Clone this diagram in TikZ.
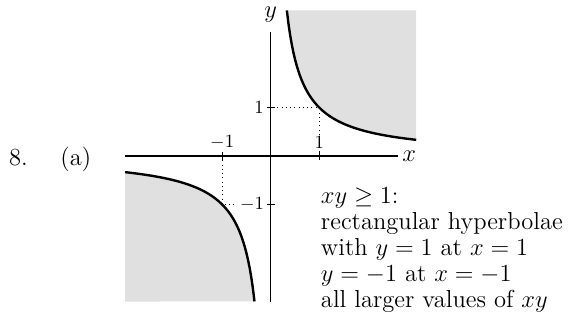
\documentclass[tikz,border=0pt]{standalone}
\usetikzlibrary{positioning}

\begin{document}
\begin{tikzpicture}[
region/.style={
  fill=black!12,
  draw=none
},
curve/.style={
  line width=1.4pt
},
axis/.style={
  line width=0.7pt
},
guide/.style={
  dotted,
  line width=0.5pt
},
ticklab/.style={
  inner sep=1.5pt,
  font=\fontsize{11}{13}\selectfont
},
font=\fontsize{14.4}{15.3}\selectfont
]
\useasboundingbox (-5.58,-3.464) rectangle (6.15,3.216);

% shaded parts
\fill[region] (3,3) -- (1/3,3) -- plot[domain=1/3:3,samples=80] (\x,{1/\x}) -- cycle;
\fill[region] (-3,-3) -- plot[domain=-3:-1/3,samples=80] (\x,{1/\x}) -- cycle;

% axes
\coordinate (xmin) at (-3,0);
\coordinate (xmax) at (2.63,0);
\coordinate (ymin) at (0,-3);
\coordinate (ymax) at (0,2.56);
\draw[axis] (xmin) -- (xmax) node[right,inner sep=2pt] (xlab) {$x$};
\draw[axis] (ymin) -- (ymax) node[above,inner sep=5pt] (ylab) {$y$};

% guides to the corner points
\coordinate (pp) at (1,1);
\coordinate (mm) at (-1,-1);
\draw[guide] (1,0) -- (pp) -- (0,1);
\draw[guide] (-1,0) -- (mm) -- (0,-1);

% ticks
\draw[axis] (1,-0.08) -- (1,0.08) node[above,ticklab] (tx1) {$1$};
\draw[axis] (-1,-0.08) -- (-1,0.08) node[above,ticklab] (txm) {$-1$};
\draw[axis] (0.08,1) -- (-0.08,1) node[left,ticklab] (ty1) {$1$};
\node[left,ticklab,fill=white] (tym) at (-0.08,-1) {$-1$};
\draw[axis] (0.08,-1) -- (-0.08,-1);

% the two branches
\draw[curve] plot[domain=1/3:3,samples=80] (\x,{1/\x});
\draw[curve] plot[domain=-3:-1/3,samples=80] (\x,{1/\x});

% text
\node[anchor=base west,inner sep=0pt] (num) at (-5.40,-0.19) {8.};
\node[base right=0.66cm of num,inner sep=0pt] (part) {(a)};
\node[anchor=north west,align=left,inner sep=0pt] (note) at (1.03,-0.643)
  {$xy\geq 1$:\\
   rectangular hyperbolae\\
   with $y=1$ at $x=1$\\
   $y=-1$ at $x=-1$\\
   all larger values of $xy$};
\end{tikzpicture}
\end{document}
